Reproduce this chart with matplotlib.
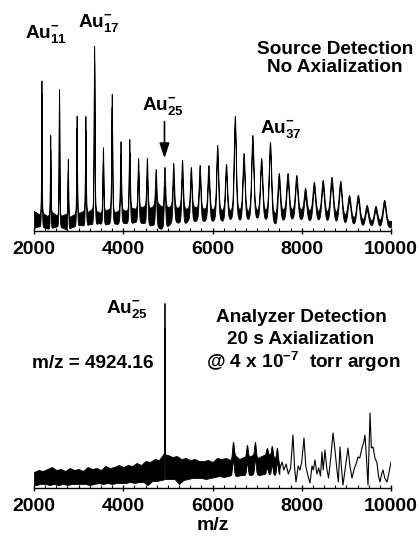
import numpy as np
import matplotlib
matplotlib.use("Agg")
import matplotlib.pyplot as plt
from matplotlib.ticker import MultipleLocator

plt.rcParams["font.family"] = ["Liberation Sans", "DejaVu Sans"]
plt.rcParams["font.weight"] = "bold"
plt.rcParams["mathtext.fontset"] = "custom"
plt.rcParams["mathtext.rm"] = "Liberation Sans:bold"
plt.rcParams["mathtext.bf"] = "Liberation Sans:bold"
plt.rcParams["mathtext.default"] = "bf"

# ---------------- data ----------------
# Top panel: Au_n^- cluster peaks (m/z) and apex heights (arb. units)
top_peak_mz = [2167, 2364, 2561, 2758, 2955, 3152, 3348, 3545, 3742, 3939,
               4136, 4333, 4530, 4727, 4924, 5121, 5318, 5515, 5712, 5909,
               6106, 6303, 6500, 6697, 6894, 7091, 7288, 7485, 7682, 7879,
               8076, 8273, 8470, 8667, 8864, 9061, 9258, 9455, 9652, 9848]
top_peak_height = [152, 96, 143, 72, 116, 115, 185, 84, 137, 90,
                   92, 73, 73, 62, 64, 68, 71, 64, 66, 66,
                   86, 67, 115, 78, 96, 73, 89, 58, 58, 56,
                   43, 49, 51, 54, 50, 36, 36, 26, 25, 31]
# peak width (sigma, m/z) along the mass axis
width_mz = [2000, 3000, 4000, 5000, 6000, 7000, 8000, 9000, 10000]
top_width = [6, 8, 11, 15, 20, 24, 28, 32, 34]
# noise band under the top spectrum: upper edge and lower edge
top_hi_mz = list(range(2000, 10001, 100))
top_hi = [20, 17, 18, 15, 19, 16, 15, 17, 14, 17,
          18, 20, 19, 22, 20, 18, 21, 22, 19, 20,
          21, 20, 23, 22, 24, 25, 23, 26, 27, 22,
          24, 25, 23, 24, 22, 23, 24, 21, 22, 21,
          21, 22, 20, 21, 19, 21, 20, 20, 18, 20,
          19, 20, 19, 19, 15, 18, 20, 19, 20, 20,
          20, 19, 19, 17, 18, 17, 17, 16, 16, 14,
          14, 12, 11, 11, 9, 10, 8, 9, 9, 8,
          10]
top_lo_mz = [2000] + list(range(2050, 10000, 100)) + [10000]
top_lo = [3,
          4, 5, 3, 2, 4, 5, 3, 1, 4, 5,
          6, 5, 7, 6, 8, 6, 7, 8, 7, 8,
          8, 7, 9, 8, 8, 5, 6, 4, 2, 3,
          7, 9, 8, 6, 10, 9, 10, 9, 10, 9,
          10, 10, 9, 11, 10, 10, 9, 10, 10, 11,
          11, 10, 9, 6, 4, 9, 10, 10, 11, 10,
          10, 9, 9, 9, 9, 8, 8, 7, 7, 6,
          6, 5, 5, 4, 4, 4, 3, 3, 3, 3,
          4]

# Bottom panel: noise band 2000-7500 and resolved peaks
bot_hi_mz = list(range(2000, 7501, 100))
bot_hi = [16, 18, 17, 19, 21, 18, 19, 17, 20, 18,
          19, 17, 21, 19, 20, 18, 22, 20, 21, 23,
          21, 23, 22, 25, 23, 27, 26, 29, 28, 34,
          33, 31, 32, 29, 30, 28, 29, 27, 27, 28,
          26, 30, 29, 30, 28, 33, 29, 31, 31, 33,
          30, 32, 34, 33, 30, 24]
bot_lo_mz = [2000] + list(range(2050, 7500, 100)) + [7500]
bot_lo = [3,
          3, 4, 4, 3, 4, 3, 4, 3, 4, 4,
          4, 4, 3, 4, 5, 4, 5, 4, 5, 5,
          5, 6, 5, 6, 6, 3, 7, 7, 8, 9,
          9, 9, 4, 8, 9, 10, 10, 10, 9, 10,
          11, 12, 11, 12, 13, 12, 13, 13, 13, 14,
          13, 14, 14, 13, 13,
          14]
bot_peak_mz = [4924, 6459, 6773, 6952, 7220, 7330, 7445]
bot_peak_height = [185, 46, 43, 46, 40, 42, 40]
bot_peak_width = [3, 18, 18, 18, 18, 18, 18]
# Bottom panel: sparse trace above 7500
bot_tail_mz = [7500, 7560, 7600, 7650, 7700, 7750, 7804, 7840, 7871, 7920,
               7960, 8000, 8050, 8090, 8140, 8185, 8230, 8260, 8296, 8340,
               8380, 8420, 8453, 8480, 8520, 8560, 8600, 8650, 8700, 8740,
               8780, 8820, 8857, 8890, 8924, 8970, 9036, 9080, 9126, 9180,
               9220, 9260, 9300, 9350, 9390, 9417, 9450, 9485, 9530, 9560,
               9597, 9640, 9686, 9720, 9753, 9790, 9821, 9860, 9910, 9950,
               10000]
bot_tail_val = [18, 26, 18, 24, 14, 20, 53, 20, 6, 22,
                18, 26, 50, 22, 12, 5, 22, 18, 28, 14,
                20, 12, 36, 18, 38, 20, 10, 30, 55, 40,
                22, 6, 41, 20, 3, 18, 40, 22, 10, 20,
                24, 31, 30, 40, 46, 53, 30, 3, 75, 40,
                41, 30, 25, 12, 6, 14, 18, 10, 6, 14,
                26]

xticks = [2000, 4000, 6000, 8000, 10000]

# ---------------- figure ----------------
W, H = 419, 536
fig = plt.figure(figsize=(W / 100, H / 100), dpi=100)


def px_axes(left, top, right, bottom):
    return fig.add_axes([left / W, 1 - bottom / H, (right - left) / W, (bottom - top) / H])


def ftext(x, y, s, **kw):
    fig.text(x / W, 1 - y / H, s, **kw)


def style_axes(ax):
    ax.set_xlim(2000, 10000)
    ax.set_ylim(0, 190)
    for side in ("left", "right", "top"):
        ax.spines[side].set_visible(False)
    ax.spines["bottom"].set_linewidth(1.0)
    ax.set_yticks([])
    ax.set_xticks(xticks)
    ax.set_xticklabels([str(t) for t in xticks])
    ax.xaxis.set_minor_locator(MultipleLocator(250))
    ax.tick_params(axis="x", which="major", direction="inout", length=5, width=1,
                   pad=5, labelsize=14)
    ax.tick_params(axis="x", which="minor", direction="in", length=2.5, width=0.8)
    for lab in ax.get_xticklabels():
        lab.set_fontweight("bold")


x = np.linspace(2000, 10000, 4001)

# top spectrum
ax1 = px_axes(34, 41, 391, 231)
style_axes(ax1)
lo = np.interp(x, top_lo_mz, top_lo)
hi = np.interp(x, top_hi_mz, top_hi)
pk = np.zeros_like(x)
for c, h in zip(top_peak_mz, top_peak_height):
    s = np.interp(c, width_mz, top_width)
    amp = h - np.interp(c, top_hi_mz, top_hi)
    pk += amp * (0.85 * np.exp(-0.5 * ((x - c) / s) ** 2)
                 + 0.15 * np.exp(-0.5 * ((x - c) / (2 * s)) ** 2))
ax1.fill_between(x, lo + pk, hi + pk, color="black", lw=0.6)
ax1.annotate("", xy=(4924, 70), xytext=(4924, 112),
             arrowprops=dict(arrowstyle="-|>,head_width=0.3,head_length=0.9",
                             color="black", lw=1.2))

# bottom spectrum
ax2 = px_axes(34, 298, 391, 488)
style_axes(ax2)
xb = x[x <= 7500]
lo2 = np.interp(xb, bot_lo_mz, bot_lo)
hi2 = np.interp(xb, bot_hi_mz, bot_hi)
pk2 = np.zeros_like(xb)
for c, h, s in zip(bot_peak_mz, bot_peak_height, bot_peak_width):
    amp = h - np.interp(c, bot_hi_mz, bot_hi)
    pk2 += amp * np.exp(-0.5 * ((xb - c) / s) ** 2)
ax2.fill_between(xb, lo2 + pk2, hi2 + pk2, color="black", lw=0.6)
ax2.plot(bot_tail_mz, bot_tail_val, color="black", lw=0.8)
ax2.set_xlabel("m/z", fontsize=14, fontweight="bold", labelpad=1)

# ---------------- annotations ----------------
fs = 13.7
ftext(25, 38, r"Au$^{-}_{11}$", fontsize=fs, va="baseline", ha="left")
ftext(78, 27, r"Au$^{-}_{17}$", fontsize=fs, va="baseline", ha="left")
ftext(142, 110, r"Au$^{-}_{25}$", fontsize=fs, va="baseline", ha="left")
ftext(260, 133, r"Au$^{-}_{37}$", fontsize=fs, va="baseline", ha="left")
ftext(335, 49, "Source Detection", fontsize=fs, ha="center", va="center")
ftext(335, 67, "No Axialization", fontsize=fs, ha="center", va="center")

ftext(106, 313, r"Au$^{-}_{25}$", fontsize=fs, va="baseline", ha="left")
ftext(93, 364, "m/z = 4924.16", fontsize=fs, ha="center", va="center")
ftext(301, 317, "Analyzer Detection", fontsize=fs, ha="center", va="center")
ftext(301, 340, "20 s Axialization", fontsize=fs, ha="center", va="center")
ftext(303, 362, r"@ 4 x 10$^{-7}$  torr argon", fontsize=fs, ha="center", va="center")

fig.savefig("out.png", dpi=100)
